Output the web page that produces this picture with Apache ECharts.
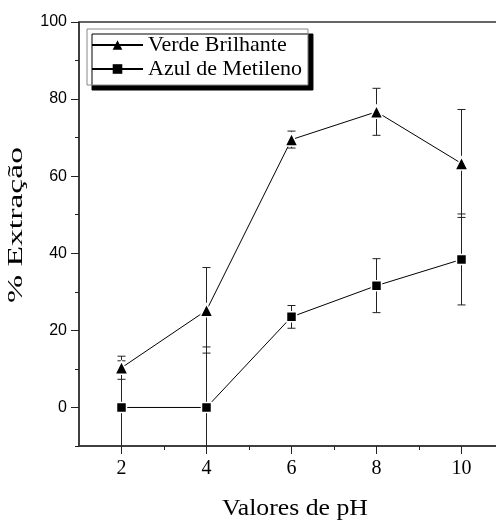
<!DOCTYPE html>
<html>
<head>
<meta charset="utf-8">
<script src="https://cdn.jsdelivr.net/npm/echarts@6/dist/echarts.min.js"></script>
<style>html,body{margin:0;padding:0;background:#fff;overflow:hidden;}#c{width:496px;height:520px;}</style>
</head>
<body>
<div id="c"></div>
<script>
const phValues = [2, 4, 6, 8, 10];
const verde = [10.3, 25.2, 69.5, 76.7, 63.3];
const verdeErr = [3.0, 11.1, 2.2, 6.1, 14.0];
const azul = [0, 0, 23.5, 31.6, 38.4];
const azulErr = [12.1, 15.7, 2.95, 7.0, 11.8];
const xMajorTicks = [2, 4, 6, 8, 10];
const xMinorTicks = [3, 5, 7, 9];
const yMajorTicks = [0, 20, 40, 60, 80, 100];
const yMinorTicks = [-10, 10, 30, 50, 70, 90];
const names = ['Verde Brilhante', 'Azul de Metileno'];

const chart = echarts.init(document.getElementById('c'), null, {renderer: 'canvas'});
const serif = 'Liberation Serif, Times New Roman, serif';
const sans = 'Liberation Sans, Arial, sans-serif';

function errItem(params, api) {
  const x = api.value(0), y = api.value(1), e = api.value(2);
  const t = api.coord([x, y + e]);
  const b = api.coord([x, y - e]);
  const hw = 4;
  const st = {stroke: '#222', lineWidth: 1};
  return {type: 'group', children: [
    {type: 'line', shape: {x1: t[0], y1: t[1], x2: b[0], y2: b[1]}, style: st},
    {type: 'line', shape: {x1: t[0] - hw, y1: t[1], x2: t[0] + hw, y2: t[1]}, style: st},
    {type: 'line', shape: {x1: b[0] - hw, y1: b[1], x2: b[0] + hw, y2: b[1]}, style: st}
  ]};
}

const axisLineStyle = {color: '#333', width: 1.5};
chart.setOption({
  animation: false,
  backgroundColor: '#fff',
  grid: {left: 79, top: 22, width: 425, height: 424, containLabel: false, outerBoundsMode: 'none',
         show: true, borderColor: '#333', borderWidth: 1.5, backgroundColor: 'transparent'},
  xAxis: [
    {type: 'value', min: 1, max: 11, position: 'bottom',
     axisLine: {show: true, onZero: false, lineStyle: axisLineStyle},
     axisTick: {show: true, customValues: xMajorTicks, length: 8, lineStyle: {color: '#222', width: 1}},
     axisLabel: {customValues: xMajorTicks, margin: 13, fontFamily: serif, fontSize: 20, color: '#000'},
     splitLine: {show: false}},
    {type: 'value', min: 1, max: 11, position: 'bottom',
     axisLine: {show: false, onZero: false},
     axisTick: {show: true, customValues: xMinorTicks, length: 4, lineStyle: {color: '#222', width: 1}},
     axisLabel: {show: false}, splitLine: {show: false}}
  ],
  yAxis: [
    {type: 'value', min: -10, max: 100, position: 'left',
     axisLine: {show: true, onZero: false, lineStyle: axisLineStyle},
     axisTick: {show: true, customValues: yMajorTicks, length: 8, lineStyle: {color: '#222', width: 1}},
     axisLabel: {customValues: yMajorTicks, margin: 12, fontFamily: sans, fontSize: 16, color: '#000'},
     splitLine: {show: false}},
    {type: 'value', min: -10, max: 100, position: 'left',
     axisLine: {show: false, onZero: false},
     axisTick: {show: true, customValues: yMinorTicks, length: 4, lineStyle: {color: '#222', width: 1}},
     axisLabel: {show: false}, splitLine: {show: false}}
  ],
  legend: {
    data: names, orient: 'vertical', left: 87, top: 29,
    itemWidth: 51, itemHeight: 12, itemGap: 2,
    padding: [5, 6, 5, 4],
    backgroundColor: '#fff', borderColor: '#888', borderWidth: 1, borderRadius: 0,
    shadowColor: '#000', shadowBlur: 0, shadowOffsetX: 5, shadowOffsetY: 5,
    textStyle: {fontFamily: serif, fontSize: 22, color: '#000', padding: [0, 0, 0, 0]},
    itemStyle: {borderWidth: 0}
  },
  graphic: [
    {type: 'text', x: 16.5, y: 225, rotation: Math.PI / 2, scaleX: 1.53,
     style: {text: '% Extração', font: '22px ' + serif, fill: '#000', align: 'center', verticalAlign: 'middle'}},
    {type: 'text', x: 295, y: 509, scaleX: 1.12,
     style: {text: 'Valores de pH', font: '23px ' + serif, fill: '#000', align: 'center', verticalAlign: 'middle'}}
  ],
  series: [
    {type: 'custom', name: 'errV', renderItem: errItem, clip: true, z: 1,
     data: phValues.map((p, i) => [p, verde[i], verdeErr[i]])},
    {type: 'custom', name: 'errA', renderItem: errItem, clip: true, z: 1,
     data: phValues.map((p, i) => [p, azul[i], azulErr[i]])},
    {type: 'line', name: names[0], z: 3, symbol: 'triangle', symbolSize: 13,
     lineStyle: {color: '#000', width: 1},
     itemStyle: {color: '#000', borderColor: '#fff', borderWidth: 1.5},
     data: phValues.map((p, i) => [p, verde[i]])},
    {type: 'line', name: names[1], z: 3, symbol: 'rect', symbolSize: 10,
     lineStyle: {color: '#000', width: 1},
     itemStyle: {color: '#000', borderColor: '#fff', borderWidth: 1.5},
     data: phValues.map((p, i) => [p, azul[i]])}
  ]
});
</script>
</body>
</html>
